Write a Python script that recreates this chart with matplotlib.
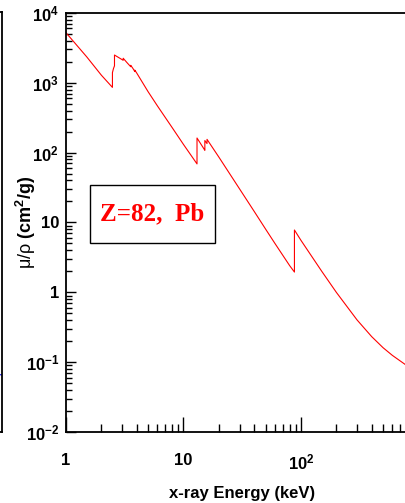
import matplotlib
matplotlib.use("Agg")
import matplotlib.pyplot as plt
from matplotlib.patches import Rectangle
from matplotlib.ticker import FixedLocator, FixedFormatter, LogLocator, NullFormatter

# Pb mass attenuation coefficient (keV, cm2/g)
energy_kev = [1.0, 1.5, 2.0, 2.484, 2.484, 2.535, 2.586, 2.586, 3.0, 3.066, 3.066,
              3.3, 3.554, 3.554, 3.7, 3.851, 3.851, 4.0, 5.0, 6.0, 8.0, 10.0,
              13.035, 13.035, 15.0, 15.2, 15.2, 15.861, 15.861, 20.0, 30.0, 40.0,
              50.0, 60.0, 80.0, 88.005, 88.005, 100.0, 150.0, 200.0, 300.0, 400.0,
              500.0, 600.0, 800.0, 1000.0]
mu_rho = [5210, 2356, 1285, 860, 1400, 1600, 1750, 2500, 2150, 2100, 2250,
          1950, 1700, 1780, 1620, 1450, 1520, 1380, 745, 467, 229, 131,
          69, 162, 112, 108, 149, 135, 155, 86.4, 30.3, 14.4,
          8.04, 5.02, 2.42, 1.95, 7.8, 5.55, 2.01, 1.00, 0.403, 0.232,
          0.161, 0.125, 0.0887, 0.0710]

x_ticks = [1, 10, 100]
x_tick_labels = ["1", "10", r"$10^{2}$"]
y_ticks = [1e-2, 1e-1, 1, 10, 100, 1e3, 1e4]
y_tick_labels = [r"$10^{-2}$", r"$10^{-1}$", "1", "10", r"$10^{2}$", r"$10^{3}$", r"$10^{4}$"]

# tail of the curve in the neighbouring (cut off) panel
side_x = [0.9, 1.0]
side_y = [0.14, 0.136]

plt.rcParams["font.family"] = ["Liberation Sans", "DejaVu Sans"]
plt.rcParams["mathtext.fontset"] = "custom"
plt.rcParams["mathtext.rm"] = "Liberation Sans:bold"
plt.rcParams["mathtext.bf"] = "Liberation Sans:bold"
plt.rcParams["mathtext.it"] = "Liberation Sans:bold"
plt.rcParams["mathtext.sf"] = "Liberation Sans"

fig = plt.figure(figsize=(4.06, 5.03), dpi=100)

# neighbouring panel, only its right edge shows
ax0 = fig.add_axes([-0.5, 0.141, 0.505, 0.836])
ax0.plot(side_x, side_y, color="blue", lw=0.8)
ax0.set_xlim(0, 1)
ax0.set_ylim(0, 1)
ax0.set_xticks([])
ax0.set_yticks([])
for s in ax0.spines.values():
    s.set_linewidth(1.3)

ax = fig.add_axes([0.1626, 0.1412, 0.868, 0.833])
ax.plot(energy_kev, mu_rho, color="red", lw=0.8)
ax.set_xscale("log")
ax.set_yscale("log")
ax.set_xlim(1, 1000)
ax.set_ylim(1e-2, 1e4)

ax.xaxis.set_major_locator(FixedLocator(x_ticks))
ax.xaxis.set_major_formatter(FixedFormatter(x_tick_labels))
ax.yaxis.set_major_locator(FixedLocator(y_ticks))
ax.yaxis.set_major_formatter(FixedFormatter(y_tick_labels))
ax.xaxis.set_minor_locator(LogLocator(base=10, subs=range(2, 10)))
ax.yaxis.set_minor_locator(LogLocator(base=10, subs=range(2, 10)))
ax.xaxis.set_minor_formatter(NullFormatter())
ax.yaxis.set_minor_formatter(NullFormatter())

ax.tick_params(axis="x", which="major", direction="in", length=11, width=1, pad=15)
ax.tick_params(axis="x", which="minor", direction="in", length=5.5, width=1)
ax.tick_params(axis="y", which="major", direction="in", length=7.5, width=1, pad=5)
ax.tick_params(axis="y", which="minor", direction="in", length=4, width=1)
ax.tick_params(top=False, right=False, which="both")
for lab in ax.get_xticklabels() + ax.get_yticklabels():
    lab.set_fontsize(12)
    lab.set_fontweight("bold")
for s in ax.spines.values():
    s.set_linewidth(1.3)

ax.set_xlabel("x-ray Energy (keV)", fontsize=12, fontweight="bold")
ax.xaxis.set_label_coords(0.5, -0.128)
ax.set_ylabel(r"$\mathsf{μ/ρ}$ (cm$^{2}$/g)", fontsize=13, fontweight="bold")
ax.yaxis.set_label_coords(-0.08, 0.5)

# element label box
fig.patches.append(Rectangle((90 / 406, 1 - 243 / 503), 125 / 406, 58 / 503,
                             transform=fig.transFigure, fill=False,
                             edgecolor="black", lw=1))
fig.text(152 / 406, 1 - 214 / 503, "Z=82,  Pb", color="red", fontsize=18,
         fontweight="bold", family="Liberation Serif", ha="center", va="center")

fig.savefig("out.png", dpi=100)
